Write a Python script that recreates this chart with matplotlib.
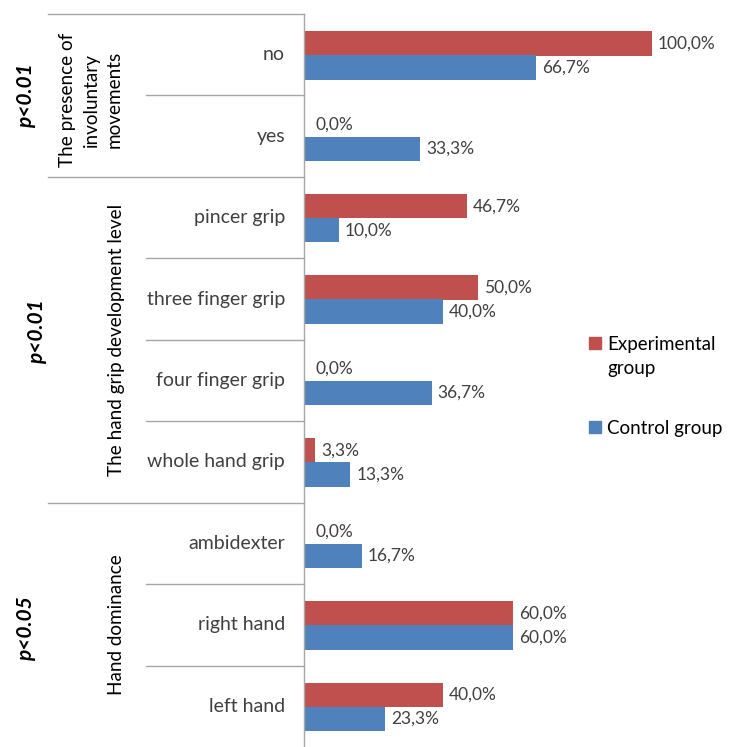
import matplotlib.pyplot as plt
from matplotlib.patches import Rectangle

# categories, top to bottom
categories = ['no', 'yes', 'pincer grip', 'three finger grip', 'four finger grip',
              'whole hand grip', 'ambidexter', 'right hand', 'left hand']
experimental = [100.0, 0.0, 46.7, 50.0, 0.0, 3.3, 0.0, 60.0, 40.0]
control = [66.7, 33.3, 10.0, 40.0, 36.7, 13.3, 16.7, 60.0, 23.3]

groups = [['The presence of', 'involuntary', 'movements'],
          ['The hand grip development level'],
          ['Hand dominance']]
group_rows = [(0, 2), (2, 6), (6, 9)]
p_values = ['p<0.01', 'p<0.01', 'p<0.05']
p_x = [26, 37, 26]      # pixel x of the p-value labels
p_shift = [0, -0.1, 0.05]

red = '#C0504D'
blue = '#4F81BD'
grid = '#A6A6A6'
txt = '#404040'

plt.rcParams['font.family'] = ['Lato', 'DejaVu Sans']

W, H = 729, 747
fig = plt.figure(figsize=(W / 100, H / 100), dpi=100)
ax_left, ax_w = 304, 400
ax_top, ax_bot = 14, 747
ax = fig.add_axes([ax_left / W, 1 - ax_bot / H, ax_w / W, (ax_bot - ax_top) / H])

n = len(categories)
pos = [i + 0.5 for i in range(n)]
h = 0.30
ax.barh([p - 0.14 for p in pos], experimental, height=h, color=red)
ax.barh([p + 0.155 for p in pos], control, height=h, color=blue)

px = 100 / 348.0  # percent per pixel
for p, e, c in zip(pos, experimental, control):
    ax.text(e + 6 * px + (6 * px if e == 0 else 0), p - 0.14, f'{e:.1f}%'.replace('.', ','),
            va='center', ha='left', fontsize=12.5, color=txt)
    ax.text(c + 6 * px, p + 0.155, f'{c:.1f}%'.replace('.', ','),
            va='center', ha='left', fontsize=12.5, color=txt)

ax.set_ylim(n, 0)
ax.set_xlim(0, ax_w * px)
ax.axis('off')
ax.axvline(0, color=grid, lw=1, ymin=0, ymax=1, clip_on=False)

tr = ax.get_yaxis_transform()
def fx(xpix):
    return (xpix - ax_left) / ax_w

# separators
starts = [a for a, b in group_rows]
for i in range(n):
    x0 = fx(48) if i in starts else fx(146)
    ax.plot([x0, 0], [i, i], transform=tr, color=grid, lw=1, clip_on=False)

# category labels
for p, cat in zip(pos, categories):
    ax.text(fx(285), p, cat, transform=tr, ha='right', va='center', fontsize=14, color=txt)

# group labels
for (a, b), lines, pv, x, s in zip(group_rows, groups, p_values, p_x, p_shift):
    mid = (a + b) / 2
    if len(lines) == 1:
        ax.text(fx(117), mid, lines[0], transform=tr, rotation=90, ha='center', va='center',
                fontsize=13.6, color='black')
    else:
        ax.text(fx(91), mid + 0.05, '\n'.join(lines), transform=tr, rotation=90, ha='center',
                va='center', fontsize=13.6, color='black', multialignment='center',
                linespacing=1.45)
    ax.text(fx(x), mid + s, pv, transform=tr, rotation=90, ha='center', va='center',
            fontsize=15, fontweight='bold', fontstyle='italic', color='black')

# legend
legend_items = [('Experimental\ngroup', red, 343), ('Control group', blue, 427)]
for label, col, y in legend_items:
    fig.add_artist(Rectangle((589 / W, 1 - (y + 6) / H), 12 / W, 12 / H, color=col,
                             transform=fig.transFigure))
    fig.text(607 / W, 1 - (y - 7) / H, label, ha='left', va='top', fontsize=13.5,
             color='black', linespacing=1.48)

fig.savefig('out.png', dpi=100)
